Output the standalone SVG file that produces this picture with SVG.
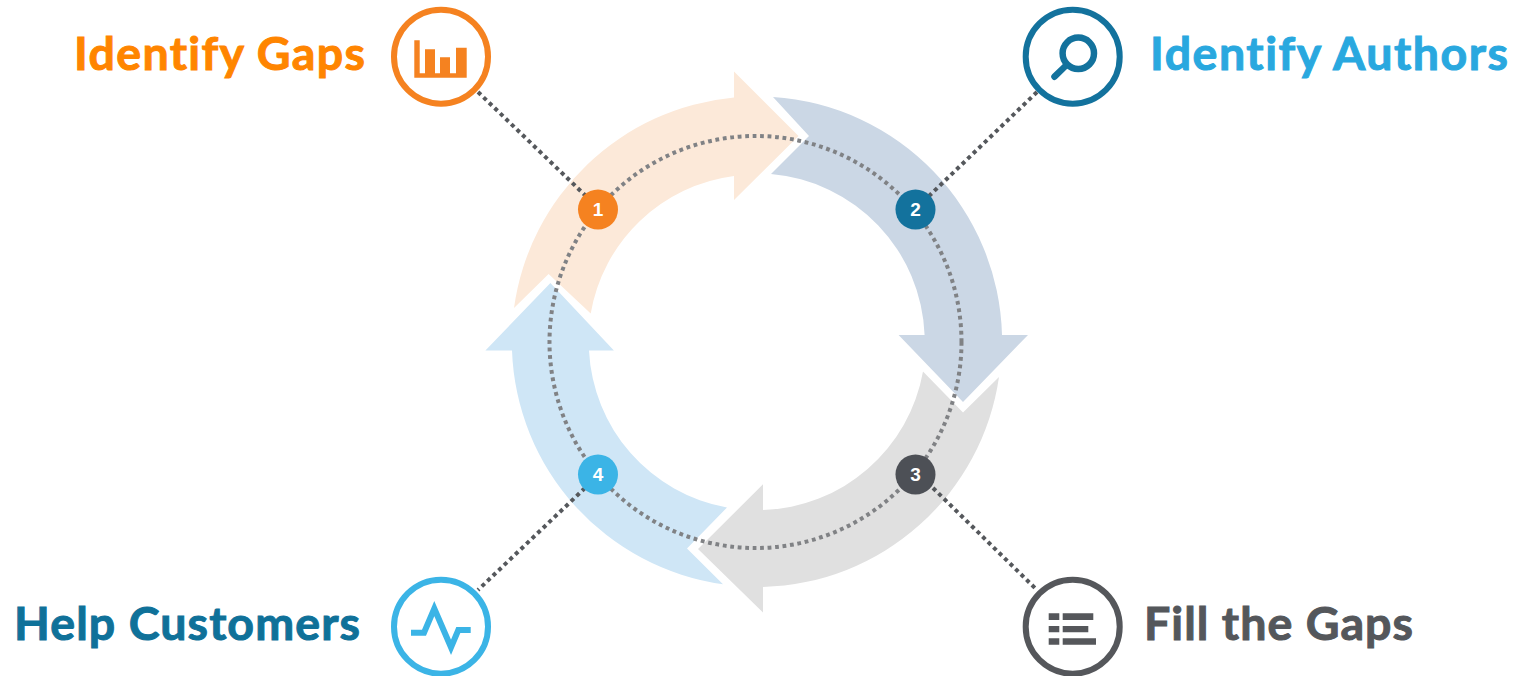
<svg xmlns="http://www.w3.org/2000/svg" width="1518" height="676" viewBox="0 0 1518 676">
<style>
.lbl{font-family:"Lato","Carlito","Liberation Sans",sans-serif;font-weight:700;font-size:46.5px;font-variant-ligatures:none;stroke-width:1;paint-order:stroke}
.num{font-family:"Liberation Sans",Arial,sans-serif;font-weight:700;font-size:19px;fill:#fff;text-anchor:middle}
.ring{fill:#fff;stroke-width:6}
.conn{fill:none;stroke:#55585c;stroke-width:4;stroke-dasharray:4 3.7}
.dial{fill:none;stroke:#808285;stroke-width:4;stroke-dasharray:3.8 3.7}
</style>
<rect width="1518" height="676" fill="#fff"/>
<g id="arrows">
<path id="arrow-orange" fill="#FCE9D9" d="M514,308 A245,245 0 0 1 734,97.5 L734,71.5 L798.5,136 L734,200 L734,176 A167,167 0 0 0 590.7,313.6 L548.6,274 Z"/>
<path id="arrow-slate" fill="#CBD7E5" d="M773,97 A245,245 0 0 1 1002,335 L1028,335 L963,402 L898.6,335 L924.6,335 A168,168 0 0 0 771,174 L809,136 Z"/>
<path id="arrow-grey" fill="#E0E0E0" d="M999,377 A245,245 0 0 1 763,587 L763,612.5 L698,549 L763,484.3 L763,510 A168,168 0 0 0 923,371.4 L963,412.5 Z"/>
<path id="arrow-blue" fill="#CFE6F6" d="M723,584.3 A245,245 0 0 1 512,350.4 L485.4,350.4 L550.4,283 L613.9,350.4 L589,350.4 A168,168 0 0 0 727,507.5 L687,548.6 Z"/>
</g>
<g id="connectors">
<circle class="dial" cx="755.5" cy="342" r="206"/>
<path class="conn" d="M478,92 L590,200"/>
<path class="conn" d="M1037,92 L928,197"/>
<path class="conn" d="M933,488 L1037,590"/>
<path class="conn" d="M585,488 L478,590"/>
</g>
<g id="node-1">
<circle cx="598" cy="209.5" r="20" fill="#F58220"/>
<text class="num" x="598" y="216">1</text>
<circle class="ring" cx="441" cy="56.7" r="47" stroke="#F58220"/>
<path fill="#F58220" d="M414.3,40.3 H419.7 V73.3 H425 V49.3 H435 V73.3 H440 V57.3 H450 V73.3 H456 V47.7 H466.7 V77.7 H414.3 Z"/>
<text class="lbl" x="74" y="70" fill="#FF8500" stroke="#FF8500" textLength="291" lengthAdjust="spacing">Identify Gaps</text>
</g>
<g id="node-2">
<circle cx="915.5" cy="209.5" r="20" fill="#13729D"/>
<text class="num" x="915.5" y="216">2</text>
<circle class="ring" cx="1072.7" cy="56.7" r="47" stroke="#13729D"/>
<circle cx="1078.3" cy="53.3" r="15.7" fill="none" stroke="#13729D" stroke-width="6.5"/>
<path d="M1066,65.5 L1054.5,76.7" fill="none" stroke="#13729D" stroke-width="6.5" stroke-linecap="round"/>
<text class="lbl" x="1150" y="70" fill="#29A8DF" stroke="#29A8DF" textLength="358" lengthAdjust="spacing">Identify Authors</text>
</g>
<g id="node-3">
<circle cx="915.5" cy="474.5" r="20" fill="#4D5056"/>
<text class="num" x="915.5" y="481">3</text>
<circle class="ring" cx="1072.7" cy="626.7" r="47" stroke="#55575B"/>
<path fill="#55575B" d="M1048.7,613.3 H1059.3 V620 H1048.7 Z M1062.7,613.3 H1093.3 V620 H1062.7 Z M1048.7,626 H1059.3 V632.3 H1048.7 Z M1062.7,626 H1088.3 V632.3 H1062.7 Z M1048.7,638.3 H1059.3 V644.7 H1048.7 Z M1062.7,638.3 H1096 V644.7 H1062.7 Z"/>
<text class="lbl" x="1144" y="640" fill="#54575B" stroke="#54575B" textLength="269" lengthAdjust="spacing">Fill the Gaps</text>
</g>
<g id="node-4">
<circle cx="598" cy="474.5" r="20" fill="#3BB4E6"/>
<text class="num" x="598" y="481">4</text>
<circle class="ring" cx="441" cy="626.7" r="47" stroke="#3BB4E6"/>
<path d="M411,632.7 H424 L434.3,608.5 L451,647.3 L458.3,630 H470.7" fill="none" stroke="#3BB4E6" stroke-width="6" stroke-miterlimit="10"/>
<text class="lbl" x="14" y="640" fill="#0F7199" stroke="#0F7199" textLength="346" lengthAdjust="spacing">Help Customers</text>
</g>
</svg>
